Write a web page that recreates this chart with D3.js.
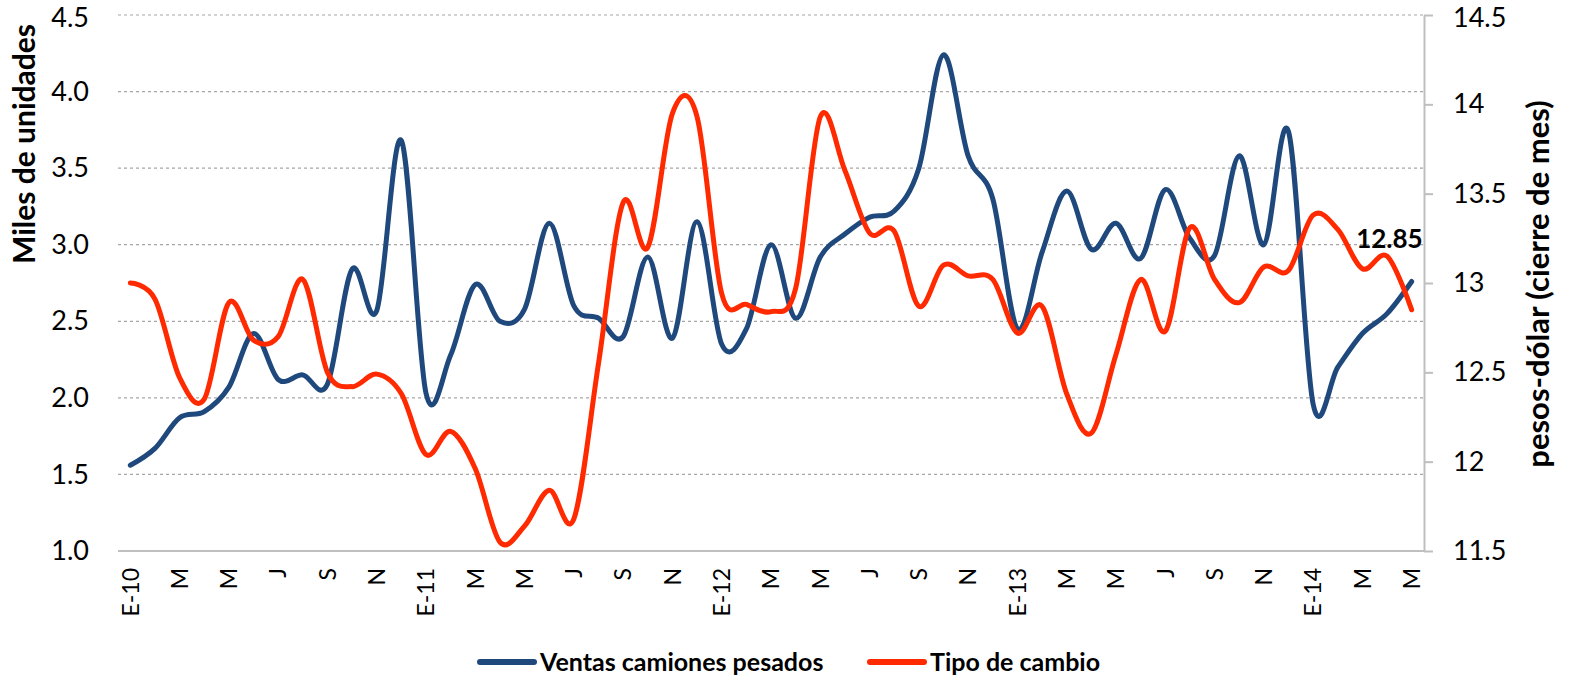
<!DOCTYPE html>
<html>
<head>
<meta charset="utf-8">
<script src="https://cdn.jsdelivr.net/npm/d3@7"></script>
<style>
  body { margin: 0; background: #fff; }
  text { font-family: Lato, "Open Sans", sans-serif; fill: #000; }
</style>
</head>
<body>
<div id="chart"></div>
<script>
// monthly data, Jan-2010 .. May-2014
const months = d3.range(53);

const tickLabels = ["E-10", "M", "M", "J", "S", "N",
                    "E-11", "M", "M", "J", "S", "N",
                    "E-12", "M", "M", "J", "S", "N",
                    "E-13", "M", "M", "J", "S", "N",
                    "E-14", "M", "M"];

// miles de unidades
const ventas = [1.56, 1.67, 1.87, 1.91, 2.07, 2.42, 2.12, 2.15, 2.09, 2.84, 2.57, 3.68,
                2.03, 2.28, 2.74, 2.50, 2.58, 3.14, 2.60, 2.52, 2.40, 2.92, 2.39, 3.15,
                2.35, 2.45, 3.00, 2.52, 2.92, 3.07, 3.18, 3.22, 3.50, 4.24, 3.58, 3.30,
                2.45, 2.95, 3.35, 2.97, 3.14, 2.91, 3.36, 3.04, 2.93, 3.58, 3.00, 3.74,
                1.96, 2.20, 2.42, 2.55, 2.76];

// pesos por dolar, cierre de mes
const tipoCambio = [13.00, 12.91, 12.47, 12.35, 12.89, 12.68, 12.70, 13.02, 12.50, 12.42, 12.49, 12.38,
                    12.04, 12.17, 11.96, 11.55, 11.64, 11.84, 11.68, 12.55, 13.45, 13.20, 13.95, 13.93,
                    12.94, 12.88, 12.84, 12.97, 13.93, 13.63, 13.28, 13.29, 12.87, 13.10, 13.04, 13.02,
                    12.72, 12.87, 12.38, 12.16, 12.60, 13.02, 12.73, 13.31, 13.02, 12.89, 13.09, 13.07,
                    13.38, 13.30, 13.08, 13.15, 12.85];

const leftTicks = [1.0, 1.5, 2.0, 2.5, 3.0, 3.5, 4.0, 4.5];
const rightTicks = [11.5, 12, 12.5, 13, 13.5, 14, 14.5];

const W = 1586, H = 677;
const plotLeft = 118, plotRight = 1424, plotTop = 15, plotBottom = 551;

const blue = "#1F497D", red = "#FF2A00";

const svg = d3.select("#chart").append("svg")
  .attr("width", W)
  .attr("height", H);

const x = d3.scalePoint().domain(months).range([plotLeft, plotRight]).padding(0.5);
const yL = d3.scaleLinear().domain([1, 4.5]).range([plotBottom, plotTop]);
const yR = d3.scaleLinear().domain([11.5, 14.5]).range([plotBottom, plotTop]);

// gridlines (left axis values)
svg.append("g")
  .selectAll("line")
  .data(leftTicks.slice(1))
  .enter()
  .append("line")
  .attr("x1", plotLeft).attr("x2", plotRight)
  .attr("y1", d => yL(d)).attr("y2", d => yL(d))
  .attr("stroke", "#a6a6a6")
  .attr("stroke-width", 1.2)
  .attr("stroke-dasharray", "3,3");

// left axis labels
const axL = svg.append("g")
  .attr("transform", `translate(${plotLeft},0)`)
  .call(d3.axisLeft(yL).tickValues(leftTicks).tickFormat(d3.format(".1f")).tickSize(0).tickPadding(29));
axL.select(".domain").remove();
axL.selectAll("text").attr("font-size", 27).attr("font-family", "Lato, sans-serif").attr("fill", "#000");

// right axis
const axR = svg.append("g")
  .attr("transform", `translate(${plotRight},0)`)
  .call(d3.axisRight(yR).tickValues(rightTicks).tickFormat(d => d).tickSize(9).tickSizeOuter(0).tickPadding(20));
axR.select(".domain").attr("stroke", "#bfbfbf").attr("stroke-width", 2);
axR.selectAll(".tick line").attr("stroke", "#bfbfbf").attr("stroke-width", 2);
axR.selectAll("text").attr("font-size", 27).attr("font-family", "Lato, sans-serif").attr("fill", "#000");

// top labels sit a bit lower so they are not clipped
axL.selectAll(".tick text").filter(d => d === 4.5).attr("dy", "0.42em");
axR.selectAll(".tick text").filter(d => d === 14.5).attr("dy", "0.42em");

// bottom category axis
svg.append("line")
  .attr("x1", plotLeft).attr("x2", plotRight)
  .attr("y1", plotBottom).attr("y2", plotBottom)
  .attr("stroke", "#bfbfbf")
  .attr("stroke-width", 2);

svg.append("g")
  .selectAll("text")
  .data(tickLabels)
  .enter()
  .append("text")
  .attr("transform", (d, i) => `translate(${x(i * 2)},${plotBottom + 17}) rotate(-90)`)
  .attr("text-anchor", "end")
  .attr("dy", "0.36em")
  .attr("font-size", 23)
  .text(d => d);

// series
const lineL = d3.line()
  .x((d, i) => x(i))
  .y(d => yL(d))
  .curve(d3.curveCardinal.tension(0));

const lineR = d3.line()
  .x((d, i) => x(i))
  .y(d => yR(d))
  .curve(d3.curveCardinal.tension(0));

svg.append("path")
  .datum(ventas)
  .attr("d", lineL)
  .attr("fill", "none")
  .attr("stroke", blue)
  .attr("stroke-width", 5)
  .attr("stroke-linecap", "round")
  .attr("stroke-linejoin", "round");

svg.append("path")
  .datum(tipoCambio)
  .attr("d", lineR)
  .attr("fill", "none")
  .attr("stroke", red)
  .attr("stroke-width", 5)
  .attr("stroke-linecap", "round")
  .attr("stroke-linejoin", "round");

// last value label
const last = tipoCambio.length - 1;
svg.append("text")
  .attr("x", x(last) + 11)
  .attr("y", yL(3.0) + 3)
  .attr("text-anchor", "end")
  .attr("font-size", 26)
  .attr("font-weight", "bold")
  .text(tipoCambio[last].toFixed(2));

// axis titles
svg.append("text")
  .attr("transform", "translate(24,144) rotate(-90)")
  .attr("text-anchor", "middle")
  .attr("dy", "0.36em")
  .attr("font-size", 30)
  .attr("font-weight", "bold")
  .text("Miles de unidades");

svg.append("text")
  .attr("transform", "translate(1538,284) rotate(-90)")
  .attr("text-anchor", "middle")
  .attr("dy", "0.36em")
  .attr("font-size", 31)
  .attr("font-weight", "bold")
  .text("pesos-dólar (cierre de mes)");

// legend
const legend = [
  {name: "Ventas camiones pesados", color: blue, x: 480},
  {name: "Tipo de cambio", color: red, x: 870}
];

const lg = svg.append("g")
  .selectAll("g")
  .data(legend)
  .enter()
  .append("g")
  .attr("transform", d => `translate(${d.x},662)`);

lg.append("line")
  .attr("x1", 0).attr("x2", 54)
  .attr("stroke", d => d.color)
  .attr("stroke-width", 6)
  .attr("stroke-linecap", "round");

lg.append("text")
  .attr("x", 60)
  .attr("dy", "0.36em")
  .attr("font-size", 25)
  .attr("font-weight", "bold")
  .text(d => d.name);
</script>
</body>
</html>
